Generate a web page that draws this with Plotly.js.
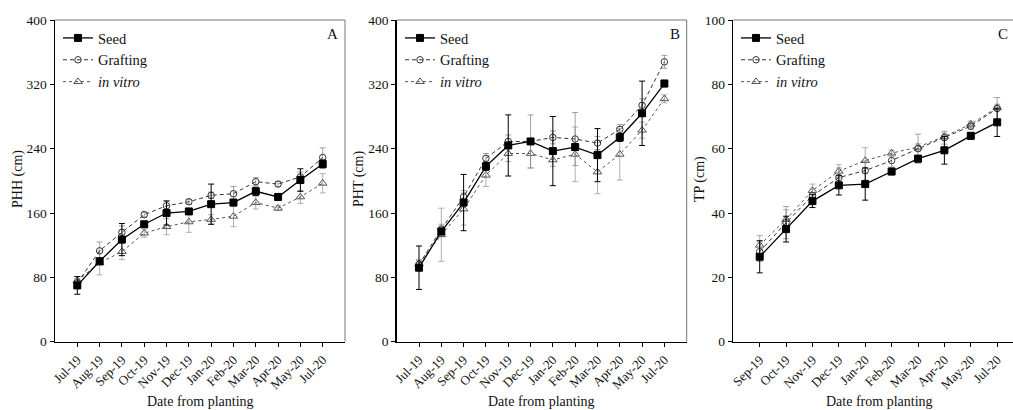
<!DOCTYPE html>
<html><head><meta charset="utf-8">
<script src="https://cdn.plot.ly/plotly-3.0.1.min.js"></script>
<style>html,body{margin:0;padding:0;background:#fff}#chart{width:1013px;height:410px}</style>
</head><body><div id="chart"></div>
<script>
const monthsAB = ['Jul-19','Aug-19','Sep-19','Oct-19','Nov-19','Dec-19','Jan-20','Feb-20','Mar-20','Apr-20','May-20','Jul-20'];
const monthsC = ['Sep-19','Oct-19','Nov-19','Dec-19','Jan-20','Feb-20','Mar-20','Apr-20','May-20','Jul-20'];

const seedA = [70, 100, 127, 146, 160, 162, 171, 173, 187, 180, 201, 221];
const seedAErr = [11, 4, 20, 3, 15, 3, 25, 4, 5, 4, 14, 5];
const graftA = [73, 113, 136, 158, 169, 174, 182, 184, 199, 196, 205, 229];
const graftAErr = [5, 11, 8, 3, 6, 3, 4, 9, 5, 3, 6, 12];
const vitroA = [76, 98, 112, 135, 143, 149, 152, 156, 173, 166, 180, 197];
const vitroAErr = [5, 15, 10, 5, 10, 13, 6, 13, 8, 3, 8, 12];

const seedB = [92, 137, 173, 218, 244, 249, 237, 242, 232, 254, 284, 321];
const seedBErr = [27, 4, 35, 5, 38, 3, 43, 4, 33, 5, 40, 4];
const graftB = [96, 140, 180, 228, 249, 249, 254, 252, 247, 264, 294, 348];
const graftBErr = [5, 6, 8, 6, 8, 33, 8, 33, 8, 6, 8, 8];
const vitroB = [97, 133, 165, 207, 234, 234, 226, 233, 211, 233, 263, 302];
const vitroBErr = [5, 33, 20, 14, 10, 18, 8, 34, 27, 32, 10, 5];

const seedC = [26.4, 35, 43.7, 48.6, 49, 52.9, 56.9, 59.5, 64, 68.2];
const seedCErr = [5, 4, 2, 3, 5, 1, 1, 4.3, 1, 4.4];
const graftC = [28, 37, 45.4, 51, 53.2, 56.3, 60, 63.4, 67, 72.5];
const graftCErr = [3, 5, 2, 3, 3, 2, 4.5, 2, 1, 3.4];
const vitroC = [30, 38, 47, 53, 56.3, 58.6, 60.5, 63.8, 67.6, 72.8];
const vitroCErr = [3, 3, 2, 2, 4, 1, 1, 1, 1, 1];

const serif = 'Liberation Serif';
const W = 1013, H = 410;

function series(x, y, err, kind, ax, legend) {
  const styles = {
    seed: {name: 'Seed', line: {color: '#000', width: 1.3, dash: 'solid'},
           marker: {symbol: 'square', size: 7, color: '#000', line: {color: '#000', width: 1}}, ec: '#000', et: 1},
    graft: {name: 'Grafting', line: {color: '#333', width: 1, dash: '4px,3px'},
           marker: {symbol: 'circle-open', size: 6.5, color: '#333', line: {color: '#333', width: 1}}, ec: '#8a8a8a', et: 0.8},
    vitro: {name: '<i>in vitro</i>', line: {color: '#555', width: 1, dash: 'dot'},
           marker: {symbol: 'triangle-up-open', size: 7.5, color: '#555', line: {color: '#555', width: 1}}, ec: '#9a9a9a', et: 0.8}
  };
  const s = styles[kind];
  return {
    x: x, y: y, type: 'scatter', mode: 'lines+markers', name: s.name,
    xaxis: 'x' + ax, yaxis: 'y' + ax, legend: legend, showlegend: true,
    line: s.line, marker: s.marker,
    error_y: {type: 'data', array: err, visible: true, color: s.ec, thickness: s.et, width: 3}
  };
}

const traces = [
  series(monthsAB, vitroA, vitroAErr, 'vitro', '', 'legend'),
  series(monthsAB, graftA, graftAErr, 'graft', '', 'legend'),
  series(monthsAB, seedA, seedAErr, 'seed', '', 'legend'),
  series(monthsAB, vitroB, vitroBErr, 'vitro', '2', 'legend2'),
  series(monthsAB, graftB, graftBErr, 'graft', '2', 'legend2'),
  series(monthsAB, seedB, seedBErr, 'seed', '2', 'legend2'),
  series(monthsC, vitroC, vitroCErr, 'vitro', '3', 'legend3'),
  series(monthsC, graftC, graftCErr, 'graft', '3', 'legend3'),
  series(monthsC, seedC, seedCErr, 'seed', '3', 'legend3')
];

const yDom = [1 - 341.7 / H, 1 - 20 / H];
function xax(dom, range, anchor) {
  return {
    domain: dom, anchor: anchor, type: 'category', range: range,
    showline: true, linecolor: '#000', linewidth: 1.5, mirror: false,
    ticks: 'outside', ticklen: 4, tickwidth: 1, tickcolor: '#000',
    tickangle: -45, showgrid: false, zeroline: false,
    tickfont: {family: serif, size: 13, color: '#111'}
  };
}
function yax(range, dtick, anchor) {
  return {
    domain: yDom, anchor: anchor, range: range, dtick: dtick, tick0: 0,
    showline: true, linecolor: '#000', linewidth: 1.5, mirror: false,
    ticks: 'outside', ticklen: 4, tickwidth: 1, tickcolor: '#000',
    showgrid: false, zeroline: false,
    tickfont: {family: serif, size: 13.5, color: '#111'}
  };
}
function leg(px) {
  return {
    x: px / W, y: 1 - 22 / H, xanchor: 'left', yanchor: 'top',
    bgcolor: 'rgba(0,0,0,0)', borderwidth: 0, traceorder: 'reversed',
    font: {family: serif, size: 14.5, color: '#111'}, tracegroupgap: 0,
    itemwidth: 30
  };
}

const border = (ax, right) => {
  const arr = [{type: 'line', xref: 'x' + ax + ' domain', yref: 'y' + ax + ' domain',
    x0: 0, x1: 1, y0: 1, y1: 1, line: {color: '#777', width: 1}}];
  if (right) arr.push({type: 'line', xref: 'x' + ax + ' domain', yref: 'y' + ax + ' domain',
    x0: 1, x1: 1, y0: 0, y1: 1, line: {color: '#777', width: 1}});
  return arr;
};

function ann(text, px, py, size, angle) {
  return {text: text, x: px / W, y: 1 - py / H, xref: 'paper', yref: 'paper',
    showarrow: false, textangle: angle || 0, xanchor: 'center', yanchor: 'middle',
    font: {family: serif, size: size, color: '#111'}};
}

const layout = {
  width: W, height: H, margin: {l: 0, r: 0, t: 0, b: 0},
  paper_bgcolor: '#fff', plot_bgcolor: 'rgba(0,0,0,0)',
  xaxis: xax([55 / W, 345 / W], [-1, 12], 'y'),
  yaxis: yax([0, 400], 80, 'x'),
  xaxis2: xax([396.7 / W, 686.7 / W], [-1, 12], 'y2'),
  yaxis2: yax([0, 400], 80, 'x2'),
  xaxis3: xax([733.3 / W, 1], [-1, 9.6], 'y3'),
  yaxis3: yax([0, 100], 20, 'x3'),
  legend: leg(58), legend2: leg(400), legend3: leg(736),
  shapes: [].concat(border('', true), border('2', true), border('3', false)),
  annotations: [
    ann('PHH (cm)', 18, 179, 14, -90),
    ann('PHT (cm)', 359, 179, 14, -90),
    ann('TP (cm)', 700, 179, 14, -90),
    ann('Date from planting', 200, 401, 14, 0),
    ann('Date from planting', 541.7, 401, 14, 0),
    ann('Date from planting', 879, 401, 14, 0),
    ann('A', 332, 34, 15, 0),
    ann('B', 675, 34, 15, 0),
    ann('C', 1003, 34, 15, 0)
  ],
  showlegend: true
};

Plotly.newPlot('chart', traces, layout, {staticPlot: true, displayModeBar: false});
</script>
</body></html>
